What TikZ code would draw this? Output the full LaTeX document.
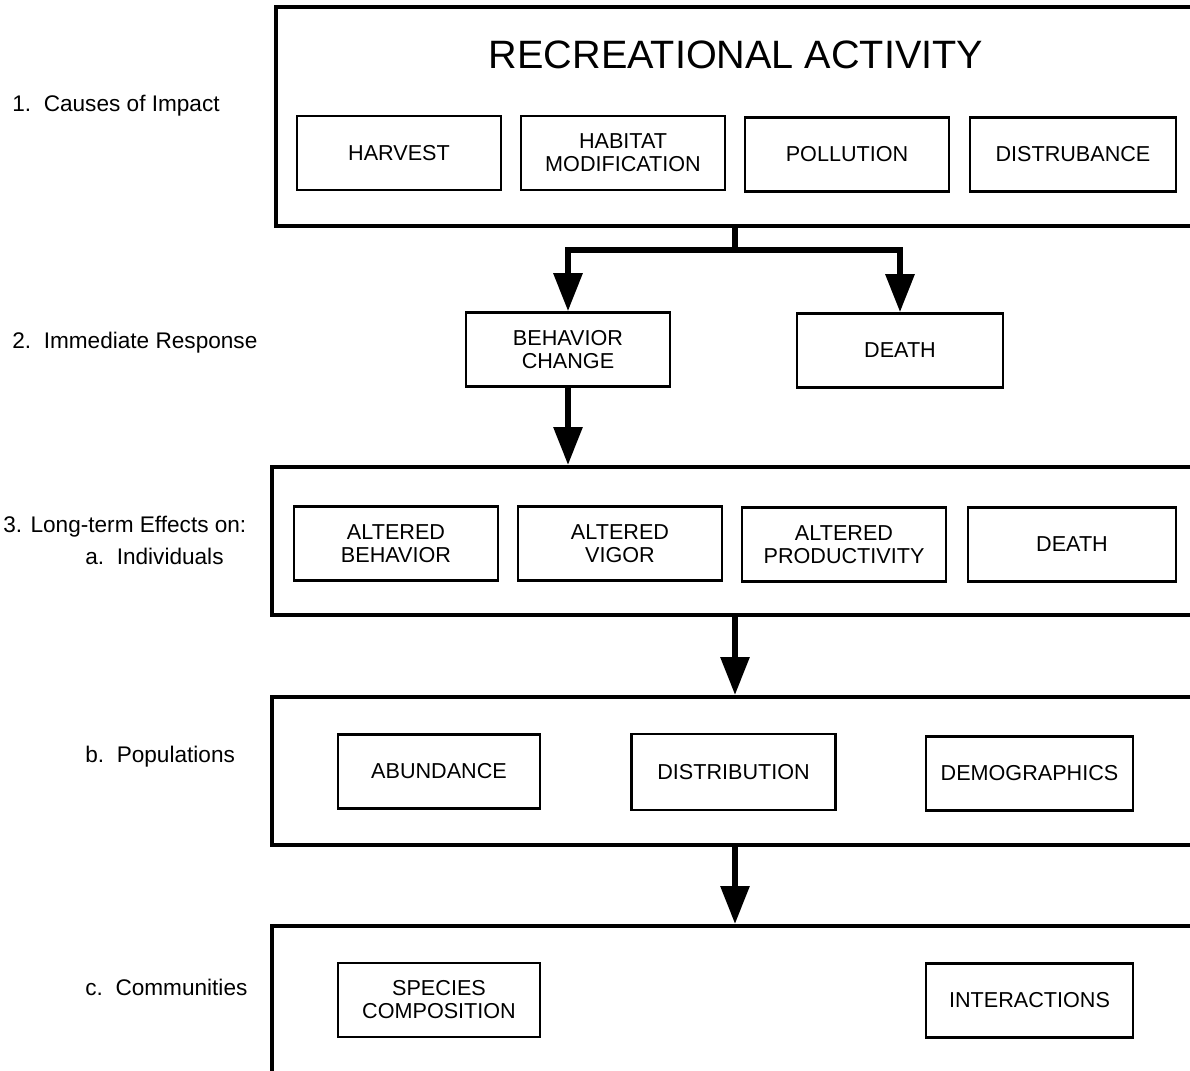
\documentclass[tikz,border=0pt]{standalone}
\usepackage{fontspec}
\setmainfont{Liberation Sans}
\usetikzlibrary{arrows.meta}
\begin{document}
\begin{tikzpicture}[x=0.5pt,y=-0.5pt,
layer/.style={draw, line width=2pt, inner sep=0pt},
item/.style={draw, line width=1.3pt, inner sep=0pt, minimum width=102pt,
  minimum height=37pt, align=center, font=\fontsize{10.8}{11.5}\selectfont},
lbl/.style={anchor=west, inner sep=0pt, font=\fontsize{11.3}{13}\selectfont},
flow/.style={line width=3pt, -{Triangle[width=14pt,length=19pt]}}
]
\useasboundingbox (0,0) rectangle (1190,1071);
\clip (0,0) rectangle (1190,1071);

% levels on the left
\node[lbl] (lab1) at (12,106) {1.\ \ Causes of Impact};
\node[lbl] (lab2) at (12,343) {2.\ \ Immediate Response};
\node[lbl] (lab3) at (3,527) {3. Long-term Effects on:};
\node[lbl] (lab3a) at (85,556) {a.\ \ Individuals};
\node[lbl] (lab3b) at (85,757) {b.\ \ Populations};
\node[lbl] (lab3c) at (85,987) {c.\ \ Communities};

% the large frames
\node[layer, minimum width=512pt, minimum height=109.5pt] (recbox) at (788,116.5) {};
\node[layer, minimum width=514pt, minimum height=74pt] (indivbox) at (786,541) {};
\node[layer, minimum width=514pt, minimum height=74pt] (popbox) at (786,771) {};
\node[layer, minimum width=514pt, minimum height=137pt] (combox) at (786,1063) {};

\node[inner sep=0pt, font=\fontsize{19.8}{22}\selectfont] (title) at (736,55) {RECREATIONAL ACTIVITY};

% causes
\node[item] (harvest) at (399,153) {HARVEST};
\node[item] (habitat) at (623,153) {HABITAT\\MODIFICATION};
\node[item] (pollut) at (847,154.5) {POLLUTION};
\node[item, minimum width=103pt] (disturb) at (1073,154.5) {DISTRUBANCE};

% immediate response
\node[item] (behav) at (568,349.5) {BEHAVIOR\\CHANGE};
\node[item, minimum width=103pt] (death) at (900,350.5) {DEATH};

% individuals
\node[item] (altbeh) at (396,543.5) {ALTERED\\BEHAVIOR};
\node[item] (altvig) at (620,543.5) {ALTERED\\VIGOR};
\node[item] (altprod) at (844,544.5) {ALTERED\\PRODUCTIVITY};
\node[item, minimum width=104pt] (death2) at (1072,544.5) {DEATH};

% populations
\node[item, minimum width=101pt] (abund) at (439,771.5) {ABUNDANCE};
\node[item, minimum height=38pt] (distrib) at (733.5,772) {DISTRIBUTION};
\node[item, minimum width=103.5pt] (demog) at (1029.5,773.5) {DEMOGRAPHICS};

% communities
\node[item, minimum width=101pt] (species) at (439,1000) {SPECIES\\COMPOSITION};
\node[item, minimum width=103.5pt] (interact) at (1029.5,1000.5) {INTERACTIONS};

% connectors
\coordinate (split) at (735,250);
\draw[line width=3pt] (split |- recbox.south) -- (split);
\draw[flow] ([xshift=1.5pt]split) -| (behav.north);
\draw[flow] ([xshift=-1.5pt]split) -| (death.north);
\draw[flow] (behav.south) -- (behav.south |- indivbox.north);
\draw[flow] (split |- indivbox.south) -- (split |- popbox.north);
\draw[flow] (split |- popbox.south) -- (split |- combox.north);

\end{tikzpicture}
\end{document}
